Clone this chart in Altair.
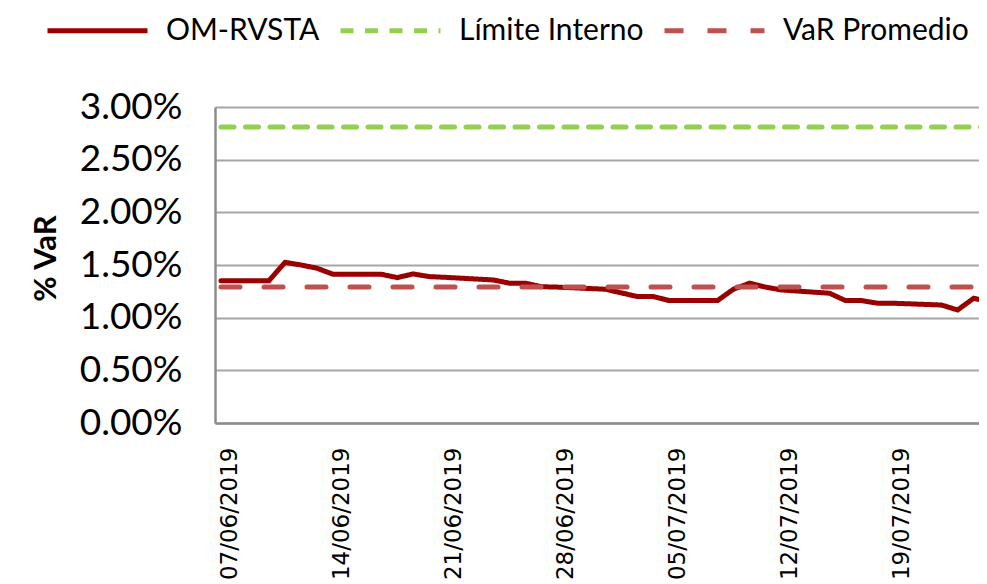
import altair as alt
import pandas as pd

# ---- data ----
dates = [
    "2019-06-07", "2019-06-10", "2019-06-11", "2019-06-12", "2019-06-13", "2019-06-14",
    "2019-06-17", "2019-06-18", "2019-06-19", "2019-06-20", "2019-06-21",
    "2019-06-24", "2019-06-25", "2019-06-26", "2019-06-27", "2019-06-28",
    "2019-07-01", "2019-07-02", "2019-07-03", "2019-07-04", "2019-07-05",
    "2019-07-08", "2019-07-09", "2019-07-10", "2019-07-11", "2019-07-12",
    "2019-07-15", "2019-07-16", "2019-07-17", "2019-07-18", "2019-07-19",
    "2019-07-22", "2019-07-23", "2019-07-24", "2019-07-25",
]
om_rvsta = [
    1.351, 1.351, 1.525, 1.500, 1.469, 1.412,
    1.412, 1.380, 1.415, 1.390, 1.383,
    1.358, 1.327, 1.327, 1.294, 1.290,
    1.270, 1.235, 1.200, 1.200, 1.162,
    1.162, 1.270, 1.327, 1.290, 1.263,
    1.232, 1.162, 1.162, 1.137, 1.137,
    1.120, 1.073, 1.184, 1.150,
]
limite_interno = 2.81
var_promedio = 1.29

series_names = ["OM-RVSTA", "Límite Interno", "VaR Promedio"]
series_colors = ["#990000", "#92D050", "#C0504D"]
series_dashes = [[1, 0], [13, 11.5], [19, 24]]

tick_dates = ["2019-06-07", "2019-06-14", "2019-06-21", "2019-06-28",
              "2019-07-05", "2019-07-12", "2019-07-19"]
y_ticks = [0, 0.005, 0.01, 0.015, 0.02, 0.025, 0.03]

rows = []
for d, v in zip(dates, om_rvsta):
    ts = d + "T00:00:00"
    rows.append({"fecha": ts, "serie": series_names[0], "valor": v / 100})
    rows.append({"fecha": ts, "serie": series_names[1], "valor": limite_interno / 100})
    rows.append({"fecha": ts, "serie": series_names[2], "valor": var_promedio / 100})
df = pd.DataFrame(rows)


def dt(s, hours=0):
    y, m, d = (int(p) for p in s.split("-"))
    return alt.DateTime(year=y, month=m, date=d, hours=hours)


legend_cfg = dict(
    title=None,
    orient="none",
    direction="horizontal",
    legendX=-170,
    legendY=-129,
    symbolType="stroke",
    symbolSize=10000,
    symbolStrokeWidth=5,
    labelFont="Lato",
    labelFontSize=30,
    labelColor="#000000",
    labelOffset=16,
    columnPadding=10,
    padding=0,
    labelLimit=400,
)

chart = alt.Chart(df).mark_line(strokeWidth=5, strokeCap="round", clip=True).encode(
    x=alt.X(
        "fecha:T",
        scale=alt.Scale(domain=[dt("2019-06-06", 15), dt("2019-07-24", 8)]),
        axis=alt.Axis(
            title=None,
            values=[dt(s) for s in tick_dates],
            format="%d/%m/%Y",
            labelAngle=270,
            labelFont="DejaVu Sans",
            labelFontSize=23,
            labelColor="#000000",
            labelPadding=24,
            labelOffset=8,
            labelOverlap=False,
            ticks=False,
            grid=False,
            domainColor="#8c8c8c",
            domainWidth=2.5,
        ),
    ),
    y=alt.Y(
        "valor:Q",
        scale=alt.Scale(domain=[0, 0.03], nice=False),
        axis=alt.Axis(
            title="% VaR",
            values=y_ticks,
            format=".2%",
            labelFont="Lato",
            labelFontSize=37,
            labelColor="#000000",
            labelPadding=33,
            ticks=False,
            grid=True,
            gridColor="#a6a6a6",
            gridWidth=2,
            domainColor="#8c8c8c",
            domainWidth=2.5,
            titleFont="Lato",
            titleFontSize=31,
            titleFontWeight="bold",
            titleColor="#000000",
            titleAngle=270,
            titleAlign="center",
            titleBaseline="middle",
            titleX=-169,
            titleY=151,
        ),
    ),
    color=alt.Color(
        "serie:N",
        scale=alt.Scale(domain=series_names, range=series_colors),
        legend=alt.Legend(**legend_cfg),
    ),
    strokeDash=alt.StrokeDash(
        "serie:N",
        scale=alt.Scale(domain=series_names, range=series_dashes),
        legend=alt.Legend(**legend_cfg),
    ),
).properties(
    width=764,
    height=316,
    autosize=alt.AutoSizeParams(type="none"),
    padding={"left": 207, "top": 99, "right": 0, "bottom": 161},
    background="#ffffff",
).configure_view(strokeWidth=0)

chart.save("out.html", embed_options={"renderer": "svg", "actions": False})
